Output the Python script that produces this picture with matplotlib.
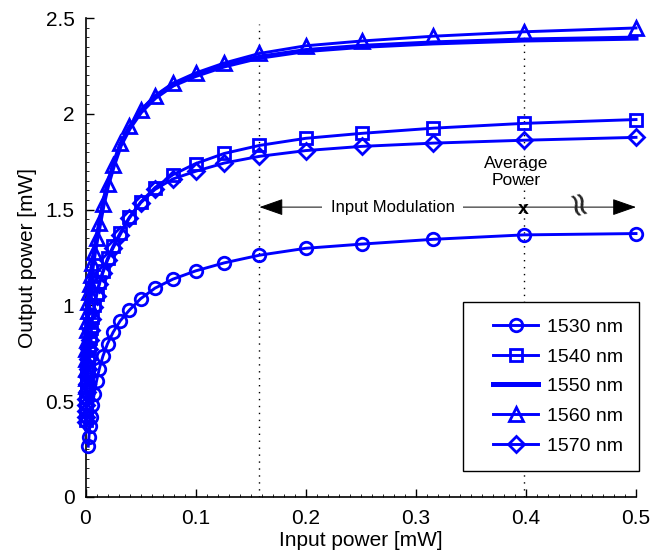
import matplotlib
matplotlib.use('Agg')
import matplotlib.pyplot as plt
from matplotlib.ticker import MultipleLocator
from matplotlib.legend_handler import HandlerLine2D

plt.rcParams['font.family'] = ['Liberation Sans', 'DejaVu Sans']

# Input power points (mW), 1 dB steps from -3 dBm downwards
x_mw = [0.5, 0.398, 0.316, 0.251, 0.2, 0.158, 0.126, 0.1, 0.0794, 0.0631,
        0.0501, 0.0398, 0.0316, 0.0251, 0.02, 0.0158, 0.0126, 0.01, 0.00794,
        0.00631, 0.00501, 0.00398, 0.00316, 0.00251, 0.002, 0.00158, 0.00126,
        0.001, 0.000794, 0.000631, 0.000501, 0.000398, 0.000316]

# Output power (mW) per wavelength
p_1530 = [1.375, 1.368, 1.345, 1.32, 1.298, 1.262, 1.222, 1.18, 1.137, 1.09,
          1.035, 0.975, 0.92, 0.86, 0.80, 0.735, 0.67, 0.605, 0.54, 0.48,
          0.42, 0.37, 0.315, 0.265]
p_1540 = [1.97, 1.95, 1.925, 1.898, 1.872, 1.835, 1.793, 1.74, 1.682, 1.615,
          1.54, 1.46, 1.38, 1.31, 1.245, 1.18, 1.12, 1.06, 1.0, 0.94, 0.88,
          0.83, 0.78, 0.73, 0.68, 0.64, 0.60, 0.56, 0.52, 0.49, 0.46, 0.43, 0.40]
p_1550 = [2.395, 2.385, 2.37, 2.352, 2.33, 2.295, 2.25, 2.2, 2.15, 2.085,
          2.01, 1.925, 1.835, 1.725, 1.625, 1.52, 1.42, 1.34, 1.27, 1.21, 1.15,
          1.10, 1.06, 1.01, 0.96, 0.91, 0.86, 0.81, 0.76, 0.71, 0.66, 0.61, 0.57]
p_1560 = [2.448, 2.428, 2.405, 2.38, 2.355, 2.315, 2.265, 2.213, 2.16, 2.095,
          2.02, 1.935, 1.845, 1.735, 1.635, 1.53, 1.43, 1.35, 1.28, 1.22, 1.16,
          1.11, 1.07, 1.02, 0.97, 0.92, 0.87, 0.82, 0.77, 0.72, 0.67, 0.62, 0.58]
p_1570 = [1.877, 1.862, 1.847, 1.83, 1.808, 1.778, 1.743, 1.70, 1.66, 1.605,
          1.535, 1.455, 1.37, 1.30, 1.235, 1.17, 1.11, 1.05, 0.99, 0.93, 0.87,
          0.82, 0.77, 0.72, 0.67, 0.63, 0.59, 0.55, 0.51, 0.48, 0.45, 0.42, 0.39]

labels = ['1530 nm', '1540 nm', '1550 nm', '1560 nm', '1570 nm']
markers = ['o', 's', None, '^', 'D']
sizes = [9, 8, 0, 10.5, 8.5]

# modulation range and average input power
mod_lo = 0.158
mod_hi = 0.5
avg_p = 0.398
arrow_y = 1.513

fig = plt.figure(figsize=(6.54, 5.58), dpi=100)
ax = fig.add_axes([85.5 / 654, 61 / 558, 550.5 / 654, 479 / 558])

blue = '#0000ff'
for y, lab, m, ms in zip([p_1530, p_1540, p_1550, p_1560, p_1570], labels, markers, sizes):
    xs = x_mw[:len(y)]
    if m is None:
        ax.plot(xs, y, color=blue, lw=3.6, label=lab, clip_on=False, zorder=3)
    else:
        ax.plot(xs, y, color=blue, lw=2.1, marker=m, ms=ms, mfc='none',
                mec=blue, mew=2.0, label=lab, clip_on=False, zorder=3)

# dotted guide lines
for xv in [mod_lo, avg_p]:
    ax.plot([xv, xv], [0, 2.47], color='k', lw=1.0, ls=(0, (1, 4)), zorder=2)

ax.annotate('', xy=(mod_lo, arrow_y), xytext=(mod_hi, arrow_y),
            arrowprops=dict(arrowstyle='<|-|>,head_length=1.0,head_width=0.35',
                            color='k', lw=0.7, mutation_scale=15,
                            shrinkA=0, shrinkB=0), zorder=4)
ax.text(0.279, arrow_y, 'Input Modulation', ha='center', va='center',
        fontsize=12, zorder=5,
        bbox=dict(boxstyle='square,pad=0.5', fc='white', ec='none'))
ax.text(0.391, 1.695, 'Average\nPower', ha='center', va='center',
        fontsize=12.5, linespacing=1.2, zorder=5)
ax.text(avg_p, arrow_y - 0.01, 'x', ha='center', va='center', fontsize=14,
        fontweight='bold', zorder=5)
ax.text(0.4446, arrow_y, '\u2248', ha='center', va='center', fontsize=24,
        rotation=-75, color='0.15', family='DejaVu Sans', zorder=5)

ax.set_xlim(0, 0.5)
ax.set_ylim(0, 2.5)
ax.xaxis.set_minor_locator(MultipleLocator(0.01))
ax.yaxis.set_minor_locator(MultipleLocator(0.05))
ax.set_xticks([0, 0.1, 0.2, 0.3, 0.4, 0.5])
ax.set_yticks([0, 0.5, 1, 1.5, 2, 2.5])
ax.set_xticklabels(['0', '0.1', '0.2', '0.3', '0.4', '0.5'])
ax.set_yticklabels(['0', '0.5', '1', '1.5', '2', '2.5'])
ax.tick_params(which='major', direction='in', length=6, width=1, labelsize=15)
ax.tick_params(which='minor', direction='in', length=2, width=0.6)
ax.tick_params(axis='x', which='major', pad=9)
ax.tick_params(axis='y', which='major', pad=8)
ax.spines['top'].set_visible(False)
ax.spines['right'].set_visible(False)
ax.spines['left'].set_linewidth(1.2)
ax.spines['bottom'].set_linewidth(1.2)

ax.set_xlabel('Input power [mW]', fontsize=15, labelpad=2)
ax.set_ylabel('Output power [mW]', fontsize=15, labelpad=6)

leg = ax.legend(loc='lower right', bbox_to_anchor=(1.006, 0.054), borderaxespad=0,
                fontsize=14, fancybox=False, edgecolor='k', framealpha=1,
                handlelength=3.0, labelspacing=0.62, numpoints=1,
                borderpad=0.85, handletextpad=0.45,
                handler_map={plt.Line2D: HandlerLine2D(xpad=0.7)})
leg.get_frame().set_linewidth(1.0)

fig.savefig('out.png', dpi=100)
